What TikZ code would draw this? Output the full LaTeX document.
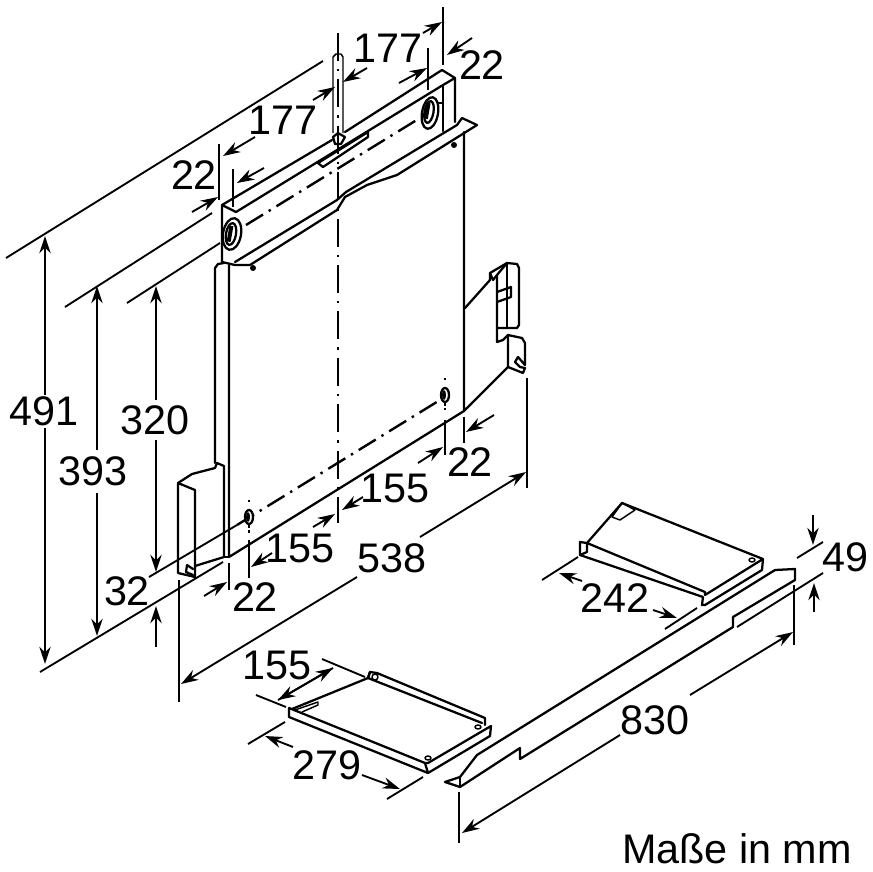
\documentclass[tikz,border=0pt]{standalone}
\usepackage{fontspec}
\setmainfont{Liberation Sans}
\usetikzlibrary{arrows.meta}
\tikzset{
  part/.style={line width=1.7pt,line join=round,line cap=round},
  thin part/.style={line width=1.1pt,line join=round},
  centre/.style={line width=1.8pt,dash pattern=on 15pt off 5pt on 1.8pt off 5pt},
  dim/.style={line width=1.4pt},
  dimarrow/.style={line width=1.4pt,-{Stealth[length=13pt,width=8.5pt]}},
  lbl/.style={inner sep=0.75pt,font=\fontsize{31}{36}\selectfont},
}

\begin{document}
\begin{tikzpicture}[x=0.75pt,y=0.75pt,yscale=-1,xscale=1]
\useasboundingbox (0,0) rectangle (872,872);

%Shape: Top bar
\draw [part] (222,262) -- (222,205) -- (332,140) (345,132) -- (442,70) -- (455,78) -- (455,122) ;
\draw [part] (222,205) -- (236,212) -- (443,85) -- (455,78) ;
\draw [part] (443,85) -- (443,131) ;
\draw [part] (235,262) -- (337,200) -- (346,192) -- (457,125) -- (462,118) -- (477,125) -- (397,175) -- (367,185) -- (345,197) -- (337,210) -- (250,265) -- (235,265) -- (222,262) ;
%Shape: Slot
\draw [part] (318,163) -- (368,132) -- (368,137) -- (323,167) -- cycle ;
%Shape: Pin
\draw [thin part] (333,133) -- (333,57) -- (336,54) -- (341,54) -- (343,57) -- (343,133) ;
\draw [part] (333,137) -- (338,133) -- (345,137) -- (341,144) -- (335,144) -- cycle ;
%Shape: Bolts
\draw [part,rotate around={10:(232,234)}] (232,234) ellipse (9 and 16) ;
\draw [part,rotate around={10:(231,234)}] (231,234) ellipse (5 and 11) ;
\draw [line width=3pt,rotate around={10:(231,234)}] (230,226) -- (230,242) ;
\draw [part,rotate around={10:(430,113)}] (430,113) ellipse (8 and 16) ;
\draw [part,rotate around={10:(429,112)}] (429,112) ellipse (4.5 and 11) ;
\draw [line width=3pt,rotate around={10:(428,112)}] (427,103) -- (427,119) ;
\draw [thin part] (438,103) -- (443,103) ;
\fill (253,268) circle (3) ;
\fill (454,145) circle (3) ;

%Shape: Panel
\draw [part] (215,463) -- (215,268) -- (218,264) -- (224,263) ;
\draw [part] (229,265) -- (229,557) -- (464,411) ;
\draw [part] (464,132) -- (464,411) -- (508,367) ;
\draw [part] (465,308) -- (490,280) ;

%Shape: Right clip
\draw [part] (490,280) -- (490,273) -- (507,263) -- (517,264) -- (519,268) -- (519,325) -- (517,328) -- (498,328) ;
\draw [part] (490,273) -- (493,280) -- (497,275) -- (507,263) ;
\draw [part] (497,275) -- (497,342) -- (503,340) -- (508,335) ;
\draw [part] (507,263) -- (507,328) ;
\draw [part] (497,292) -- (511,287) -- (511,297) -- (497,302) ;
\draw [part] (508,367) -- (508,335) -- (522,338) -- (525,343) -- (525,365) -- (518,357) -- (515,362) -- (520,367) -- (525,368) -- (523,373) -- (508,367) ;

%Shape: Left clip
\draw [part] (178,573) -- (178,483) -- (195,490) -- (195,577) -- (178,573) ;
\draw [part] (178,483) -- (192,474) -- (215,468) -- (217,463) -- (224,466) -- (224,557) -- (195,566) ;
\draw [part] (187,565) -- (186,572) -- (193,575) (187,565) -- (193,569) ;
\draw [part] (224,557) -- (229,557) ;

%Straight Lines
\draw [centre,dash pattern=on 21pt off 6pt on 1.8pt off 6pt] (338,33) -- (338,523) ;
\draw [centre] (246,225) -- (420,118) ;
\draw [centre] (237,525) -- (440,400) ;
\draw [centre,dash pattern=on 1.8pt off 5pt on 14pt] (249,500) -- (249,533) ;
\draw [centre,dash pattern=on 1.8pt off 5pt on 14pt] (445,378) -- (445,410) ;
%Shape: Eyes
\draw [part,fill=white] (249,517) ellipse (4 and 7) ;
\draw [part,fill=white] (445,395) ellipse (4 and 7) ;
\fill (248,517) ellipse (2 and 5) ;
\fill (444,395) ellipse (2 and 5) ;

%Shape: Front plate
\draw [part] (289,717) -- (289,708) -- (425,763) -- (428,773) -- (289,717) ;
\draw [part] (428,773) -- (490,736) -- (491,726) -- (428,763) -- (425,763) ;
\draw [part] (292,709) -- (368,678) ;
\draw [part] (368,678) -- (370,672) -- (377,673) -- (485,718) -- (485,725) ;
\draw [part] (370,672) -- (368,678) -- (482,723) ;
\draw [thin part] (295,710) -- (318,702) -- (318,705) -- (302,712) ;
\draw [thin part] (428,758) ellipse (3 and 2) ;
\draw [thin part] (478,727) ellipse (3 and 2) ;
\draw [thin part] (375,677) circle (3) ;

%Shape: Rear plate
\draw [part] (587,543) -- (622,503) -- (763,559) -- (762,570) -- (705,605) -- (702,605) -- (703,597) -- (580,555) -- (580,542) -- (587,543) -- (705,592) -- (705,595) -- (763,559) ;
\draw [part] (587,543) -- (587,552) -- (580,555) ;
\draw [thin part] (612,517) -- (622,503) -- (635,510) -- (620,520) -- cycle ;
\draw [thin part] (752,560) ellipse (3 and 2) ;

%Shape: Long rail
\draw [part] (445,782) -- (460,777) -- (477,755) -- (775,570) -- (795,569) -- (795,580) -- (733,617) -- (733,627) -- (520,759) -- (520,748) -- (460,787) -- (445,782) ;
\draw [part] (460,777) -- (460,787) ;

%Straight Lines: extension lines
\draw [dim] (6,258) -- (323,61) ;
\draw [dim] (65,307) -- (212,213) ;
\draw [dim] (127,303) -- (220,243) ;
\draw [dim] (40,672) -- (223,562) ;
\draw [dim] (149,577) -- (237,525) ;
\draw [dim] (443,7) -- (443,65) ;
\draw [dim] (428,48) -- (428,90) ;
\draw [dim] (219,144) -- (219,200) ;
\draw [dim] (233,169) -- (233,207) ;
\draw [dim] (464,417) -- (464,443) ;
\draw [dim] (445,420) -- (445,455) ;
\draw [dim] (249,540) -- (249,578) ;
\draw [dim] (229,563) -- (229,590) ;
\draw [dim] (527,378) -- (527,488) ;
\draw [dim] (179,580) -- (179,702) ;
\draw [dim] (256,695) -- (286,707) ;
\draw [dim] (322,659) -- (365,677) ;
\draw [dim] (248,744) -- (285,722) ;
\draw [dim] (387,799) -- (423,777) ;
\draw [dim] (542,580) -- (578,557) ;
\draw [dim] (665,629) -- (697,608) ;
\draw [dim] (797,558) -- (823,542) ;
\draw [dim] (737,627) -- (823,573) ;
\draw [dim] (794,585) -- (794,645) ;
\draw [dim] (459,792) -- (459,843) ;

%Straight Lines: dimension arrows
\draw [dimarrow] (45,395) -- (45,236) ;
\draw [dimarrow] (45,428) -- (45,664) ;
\draw [dimarrow] (97,450) -- (97,286) ;
\draw [dimarrow] (97,493) -- (97,636) ;
\draw [dimarrow] (156,400) -- (156,286) ;
\draw [dimarrow] (156,440) -- (156,572) ;
\draw [dimarrow] (156,647) -- (156,606) ;
\draw [dimarrow] (423,33) -- (442,22) ;
\draw [dimarrow] (399,83) -- (427,68) ;
\draw [dimarrow] (472,38) -- (447,55) ;
\draw [dimarrow] (367,68) -- (343,82) ;
\draw [dimarrow] (313,100) -- (335,87) ;
\draw [dimarrow] (255,137) -- (223,156) ;
\draw [dimarrow] (192,212) -- (218,197) ;
\draw [dimarrow] (264,168) -- (237,183) ;
\draw [dimarrow] (363,497) -- (342,510) ;
\draw [dimarrow] (313,527) -- (335,514) ;
\draw [dimarrow] (494,415) -- (466,432) ;
\draw [dimarrow] (418,463) -- (443,447) ;
\draw [dimarrow] (272,553) -- (251,567) ;
\draw [dimarrow] (204,596) -- (227,582) ;
\draw [dimarrow] (420,537) -- (526,472) ;
\draw [dimarrow] (357,577) -- (181,684) ;
\draw [dimarrow] (278,700) -- (333,668) ;
\draw [dimarrow] (333,668) -- (278,700) ;
\draw [dimarrow] (293,747) -- (265,736) ;
\draw [dimarrow] (362,775) -- (400,789) ;
\draw [dimarrow] (582,581) -- (559,573) ;
\draw [dimarrow] (653,610) -- (677,618) ;
\draw [dimarrow] (813,515) -- (813,545) ;
\draw [dimarrow] (814,612) -- (814,583) ;
\draw [dimarrow] (690,695) -- (793,632) ;
\draw [dimarrow] (620,735) -- (462,833) ;

% Text Node
\node (lblA) [lbl] at (44,411) {491} ;
\node (lblB) [lbl] at (93,471) {393} ;
\node (lblC) [lbl] at (155,420) {320} ;
\node (lblD) [lbl] at (127,591) {32} ;
\node (lblE) [lbl] at (388,48) {177} ;
\node (lblF) [lbl] at (283,120) {177} ;
\node (lblG) [lbl] at (482,65) {22} ;
\node (lblH) [lbl] at (194,175) {22} ;
\node (lblI) [lbl] at (470,462) {22} ;
\node (lblJ) [lbl] at (395,488) {155} ;
\node (lblK) [lbl] at (300,548) {155} ;
\node (lblL) [lbl] at (255,597) {22} ;
\node (lblM) [lbl] at (392,558) {538} ;
\node (lblN) [lbl] at (277,665) {155} ;
\node (lblO) [lbl] at (327,765) {279} ;
\node (lblP) [lbl] at (615,598) {242} ;
\node (lblQ) [lbl] at (845,557) {49} ;
\node (lblR) [lbl] at (655,720) {830} ;
\node (lblS) [lbl] at (737,849) {Maße in mm} ;
\end{tikzpicture}
\end{document}
